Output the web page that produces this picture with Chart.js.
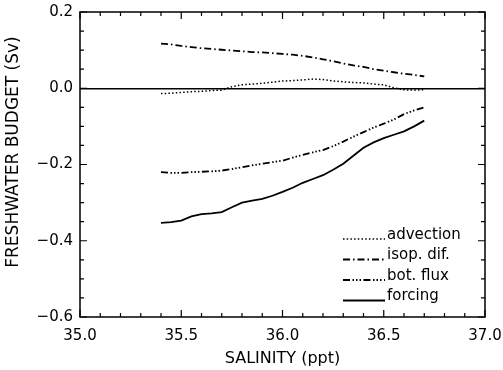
<!DOCTYPE html>
<html>
<head>
<meta charset="utf-8">
<script src="https://cdn.jsdelivr.net/npm/chart.js@4.4.1/dist/chart.umd.min.js"></script>
<style>
  html, body { margin: 0; padding: 0; background: #fff; }
  #wrap { width: 503px; height: 370px; }
</style>
</head>
<body>
<div id="wrap"><canvas id="budget"></canvas></div>
<script>
// salinity classes (ppt)
const salinity = [35.40, 35.45, 35.50, 35.55, 35.60, 35.65, 35.70, 35.75, 35.80, 35.85,
  35.90, 35.95, 36.00, 36.05, 36.10, 36.15, 36.20, 36.25, 36.30, 36.35,
  36.40, 36.45, 36.50, 36.55, 36.60, 36.65, 36.70]

// freshwater budget terms (Sv)
const advection = [-0.014, -0.013, -0.011, -0.009, -0.008, -0.006, -0.005, 0.004, 0.009, 0.011,
  0.013, 0.016, 0.019, 0.020, 0.022, 0.024, 0.023, 0.019, 0.017, 0.015,
  0.014, 0.011, 0.009, 0.001, -0.004, -0.005, -0.004]
const isopDif = [0.117, 0.115, 0.111, 0.108, 0.105, 0.103, 0.101, 0.099, 0.097, 0.095,
  0.094, 0.092, 0.090, 0.088, 0.085, 0.081, 0.076, 0.071, 0.065, 0.060,
  0.056, 0.050, 0.046, 0.042, 0.038, 0.035, 0.031]
const botFlux = [-0.220, -0.222, -0.222, -0.220, -0.219, -0.218, -0.216, -0.212, -0.207, -0.202,
  -0.198, -0.194, -0.190, -0.182, -0.175, -0.168, -0.162, -0.152, -0.140, -0.127,
  -0.115, -0.103, -0.093, -0.082, -0.068, -0.058, -0.050]
const forcing = [-0.353, -0.351, -0.347, -0.336, -0.330, -0.328, -0.325, -0.312, -0.300, -0.295,
  -0.290, -0.282, -0.272, -0.261, -0.248, -0.238, -0.228, -0.214, -0.198, -0.177,
  -0.156, -0.142, -0.131, -0.122, -0.113, -0.100, -0.085]

const xTicks = [35.0, 35.5, 36.0, 36.5, 37.0]
const yTicks = [-0.6, -0.4, -0.2, 0.0, 0.2]

const FONT = 'DejaVu Sans'

const series = [
  { label: 'advection', values: advection, dash: [1.5, 2.2], width: 1.5 },
  { label: 'isop. dif.', values: isopDif, dash: [7, 3, 1.5, 3], width: 1.8 },
  { label: 'bot. flux', values: botFlux, dash: [7, 2.5, 1.5, 2, 1.5, 2, 1.5, 2.5], width: 1.8 },
  { label: 'forcing', values: forcing, dash: [], width: 1.8 }
]

// inward ticks on all four sides + top/right frame
const frameTicks = {
  id: 'frameTicks',
  afterDraw (chart) {
    const { ctx, chartArea: a, scales: { x, y } } = chart
    ctx.save()
    ctx.strokeStyle = '#000'
    ctx.lineWidth = 1.5
    ctx.strokeRect(a.left, a.top, a.right - a.left, a.bottom - a.top)
    ctx.lineWidth = 1.2
    ctx.beginPath()
    for (let i = 0; i <= 20; i++) {
      const px = x.getPixelForValue(35 + i / 10)
      const len = i % 5 === 0 ? 7 : 4
      ctx.moveTo(px, a.bottom); ctx.lineTo(px, a.bottom - len)
      ctx.moveTo(px, a.top); ctx.lineTo(px, a.top + len)
    }
    for (let i = 0; i <= 16; i++) {
      const py = y.getPixelForValue(-0.6 + i * 0.05)
      const len = i % 4 === 0 ? 7 : 4
      ctx.moveTo(a.left, py); ctx.lineTo(a.left + len, py)
      ctx.moveTo(a.right, py); ctx.lineTo(a.right - len, py)
    }
    ctx.stroke()
    ctx.restore()
  }
}

// legend inside the lower right corner
const innerLegend = {
  id: 'innerLegend',
  afterDraw (chart) {
    const { ctx, chartArea: a } = chart
    ctx.save()
    ctx.font = `15px "${FONT}"`
    ctx.fillStyle = '#000'
    ctx.textBaseline = 'middle'
    const x0 = a.right - 142
    const x1 = a.right - 100
    chart.data.datasets.forEach((ds, i) => {
      const yy = a.bottom - 82 + i * 20.5
      ctx.strokeStyle = '#000'
      ctx.lineWidth = ds.borderWidth
      ctx.setLineDash(ds.borderDash)
      ctx.beginPath()
      ctx.moveTo(x0, yy + 4)
      ctx.lineTo(x1, yy + 4)
      ctx.stroke()
      ctx.setLineDash([])
      ctx.fillText(ds.label, x1 + 2, yy)
    })
    ctx.restore()
  }
}

// axis titles
const axisTitles = {
  id: 'axisTitles',
  afterDraw (chart) {
    const { ctx, chartArea: a } = chart
    ctx.save()
    ctx.fillStyle = '#000'
    ctx.textAlign = 'center'
    ctx.textBaseline = 'middle'
    ctx.font = `16px "${FONT}"`
    ctx.fillText('SALINITY (ppt)', (a.left + a.right) / 2, 359)
    ctx.translate(14, 152)
    ctx.rotate(-Math.PI / 2)
    ctx.font = `17px "${FONT}"`
    ctx.fillText('FRESHWATER BUDGET (Sv)', 0, 0)
    ctx.restore()
  }
}

const datasets = series.map(s => ({
  label: s.label,
  data: salinity.map((v, i) => ({ x: v, y: s.values[i] })),
  borderColor: '#000',
  borderWidth: s.width,
  borderDash: s.dash,
  pointRadius: 0,
  tension: 0,
  fill: false
}))

new Chart(document.getElementById('budget'), {
  type: 'line',
  data: { datasets },
  options: {
    responsive: true,
    maintainAspectRatio: false,
    animation: false,
    layout: { padding: { top: 12, right: 18, left: 0, bottom: 0 } },
    plugins: { legend: { display: false }, tooltip: { enabled: false } },
    scales: {
      x: {
        type: 'linear',
        min: 35,
        max: 37,
        afterBuildTicks: scale => { scale.ticks = xTicks.map(v => ({ value: v })) },
        afterFit: scale => {
          scale.height = 53
          scale.paddingLeft = 0
          scale.paddingRight = 0
        },
        ticks: {
          color: '#000',
          font: { family: FONT, size: 15 },
          padding: 10,
          maxRotation: 0,
          callback: v => v.toFixed(1)
        },
        grid: { display: false, drawTicks: false },
        border: { display: false }
      },
      y: {
        type: 'linear',
        min: -0.6,
        max: 0.2,
        afterBuildTicks: scale => { scale.ticks = yTicks.map(v => ({ value: v })) },
        afterFit: scale => {
          scale.width = 80
          scale.paddingTop = 0
          scale.paddingBottom = 0
        },
        ticks: {
          color: '#000',
          font: { family: FONT, size: 15 },
          padding: 7,
          callback: v => (v < 0 ? '\u2212' : '') + Math.abs(v).toFixed(1)
        },
        grid: {
          drawTicks: false,
          lineWidth: 1.5,
          color: c => (c.tick && Math.abs(c.tick.value) < 1e-9 ? '#000' : 'rgba(0,0,0,0)')
        },
        border: { display: false }
      }
    }
  },
  plugins: [frameTicks, innerLegend, axisTitles]
})
</script>
</body>
</html>
